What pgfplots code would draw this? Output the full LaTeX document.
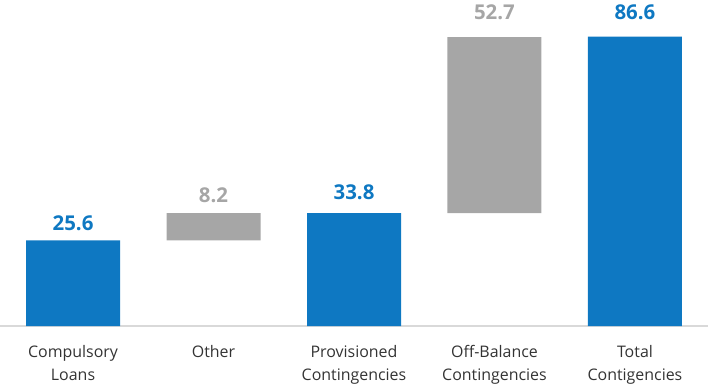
\documentclass[border=0pt]{standalone}
\usepackage{fontspec}
\setmainfont{Open Sans}
\usepackage{pgfplots}
\pgfplotsset{compat=1.18}
\definecolor{cblue}{HTML}{0E78C2}
\definecolor{cgray}{HTML}{A6A6A6}
\definecolor{cline}{HTML}{D9D9D9}
\pgfplotsset{commonax/.style={
  at={(0,60bp)}, anchor=south west,
  scale only axis, width=708bp, height=326bp,
  xmin=-0.52, xmax=4.52, ymin=0, ymax=97.6, clip=false}}
\begin{document}
\begin{tikzpicture}[x=1bp,y=1bp]
\begin{axis}[
  commonax,
  axis x line=bottom, axis y line=none,
  axis line style={-, draw=cline, line width=1.2bp},
  ybar stacked, bar width=94bp,
  xtick={0,1,2,3,4},
  xticklabels={{Compulsory\\Loans},{Other},{Provisioned\\Contingencies},{Off-Balance\\Contingencies},{Total\\Contigencies}},
  xticklabel style={align=center, font=\fontsize{16}{23}\selectfont, anchor=north, inner sep=0pt, yshift=-19bp, text=black!80},
  major tick length=0pt,
]
\addplot[fill=none, draw=none] coordinates {(0,0) (1,25.6) (2,0) (3,33.8) (4,0)};
\addplot[fill=cblue, draw=none] coordinates {(0,25.6) (1,0) (2,33.8) (3,0) (4,86.6)};
\addplot[fill=cgray, draw=none] coordinates {(0,0) (1,8.2) (2,0) (3,52.7) (4,0)};
\end{axis}
\begin{axis}[
  commonax, hide axis,
  nodes near coords, point meta=explicit symbolic,
  every node near coord/.append style={font=\fontsize{20.5}{22}\selectfont\bfseries, anchor=south, inner sep=0pt},
]
\addplot[only marks, mark=none, every node near coord/.append style={text=cblue, yshift=10bp}] coordinates {(0,25.6) [25.6]};
\addplot[only marks, mark=none, every node near coord/.append style={text=cblue, yshift=13bp}] coordinates {(2,33.8) [33.8]};
\addplot[only marks, mark=none, every node near coord/.append style={text=cblue, yshift=17bp}] coordinates {(4,86.6) [86.6]};
\addplot[only marks, mark=none, every node near coord/.append style={text=cgray, yshift=10bp}] coordinates {(1,33.8) [8.2]};
\addplot[only marks, mark=none, every node near coord/.append style={text=cgray, yshift=17bp}] coordinates {(3,86.6) [52.7]};
\end{axis}
\pgfresetboundingbox
\path[use as bounding box] (0,0) rectangle (708bp,386bp);
\end{tikzpicture}
\end{document}
